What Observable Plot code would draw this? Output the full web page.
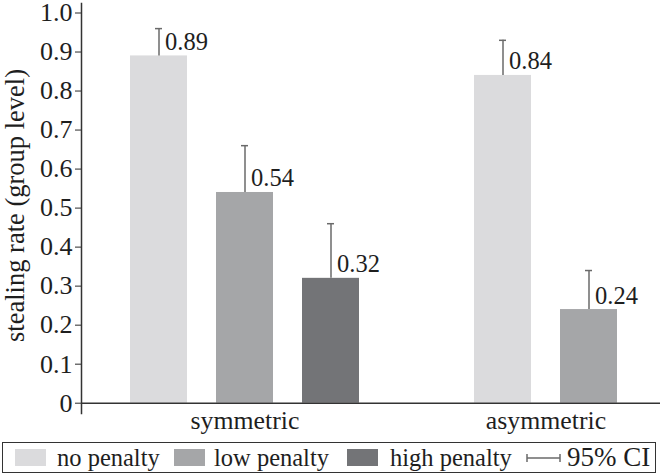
<!DOCTYPE html>
<html><head><meta charset="utf-8">
<script src="https://cdn.jsdelivr.net/npm/d3@7"></script>
<script src="https://cdn.jsdelivr.net/npm/@observablehq/plot@0.6"></script>
<style>
body{margin:0;background:#fff;}
#wrap{width:660px;position:relative;font-family:"Liberation Serif",serif;color:#1e1e1e;}
#legend{position:relative;width:660px;height:34px;}
#legend .box{position:absolute;left:2px;top:2px;width:652px;height:29px;border:1.5px solid #333;}
#legend .sw{position:absolute;top:9px;width:31px;height:17px;}
#legend .tx{position:absolute;top:1px;font-size:24.5px;line-height:33px;white-space:nowrap;}
#legend svg{position:absolute;}
svg{overflow:visible;}
</style></head>
<body><div id="wrap"><div id="chart"></div><div id="legend"></div></div>
<script>
const groups = ["symmetric","symmetric","symmetric","asymmetric","asymmetric"];
const conditions = ["no penalty","low penalty","high penalty","no penalty","low penalty"];
const rates = [0.89, 0.54, 0.32, 0.84, 0.24];
const ciUpper = [0.96, 0.66, 0.46, 0.93, 0.34];
const valueLabels = ["0.89","0.54","0.32","0.84","0.24"];
const groupNames = ["symmetric","asymmetric"];
const conditionNames = ["no penalty","low penalty","high penalty"];
const conditionColors = ["#dbdbdd","#a5a6a8","#737477"];
const yTicks = [0,0.1,0.2,0.3,0.4,0.5,0.6,0.7,0.8,0.9,1.0];
const yTickLabels = ["0","0.1","0.2","0.3","0.4","0.5","0.6","0.7","0.8","0.9","1.0"];
const yLabel = "stealing rate (group level)";
const ciLabel = "95% CI";

const data = groups.map((g,i)=>({group:g, condition:conditions[i], key:g+"|"+conditions[i], rate:rates[i], upper:ciUpper[i], label:valueLabels[i]}));
const xDomain = ["symmetric|no penalty","symmetric|low penalty","symmetric|high penalty","gap","asymmetric|no penalty","asymmetric|low penalty"];

const chart = Plot.plot({
  width:660, height:440,
  marginLeft:81, marginRight:0, marginTop:3, marginBottom:27,
  style:{fontFamily:"Liberation Serif", fontSize:"24px", color:"#2a2a2a", background:"#fff", overflow:"visible"},
  x:{domain:xDomain, range:[99,649], padding:1/3, axis:null},
  y:{domain:[0,1], range:[402.7,12.5], axis:null},
  color:{domain:conditionNames, range:conditionColors},
  marks:[
    Plot.barY(data,{x:"key", y:"rate", fill:"condition"}),
    Plot.ruleX(data,{x:"key", y1:"rate", y2:"upper", stroke:"#6a6a6a", strokeWidth:1.5}),
    Plot.tickY(data,{x:"key", y:"upper", stroke:"#6a6a6a", strokeWidth:1.5, insetLeft:25, insetRight:25}),
    Plot.text(data,{x:"key", y:"rate", text:"label", textAnchor:"start", lineAnchor:"bottom", dx:6, dy:-6, fill:"#1e1e1e", fontSize:24.5}),
    Plot.axisY({ticks:yTicks, tickFormat:(d)=>yTickLabels[yTicks.indexOf(d)], tickSize:6, tickPadding:3, fontSize:26, fill:"#1e1e1e", label:null}),
    Plot.text([yLabel],{text:d=>d, frameAnchor:"left", textAnchor:"middle", rotate:-90, dx:-66, dy:-3, fontSize:26.5, fill:"#1e1e1e", lineAnchor:"middle"}),
    Plot.frame({anchor:"left", stroke:"#333", strokeWidth:1.5}),
    Plot.ruleY([0],{stroke:"#333", strokeWidth:1.5}),
    Plot.text([groupNames[0]],{x:d=>d+"|low penalty", text:d=>d, frameAnchor:"bottom", lineAnchor:"top", dy:-3, fill:"#1e1e1e", fontSize:25.8}),
    Plot.text([groupNames[1]],{x:d=>d+"|no penalty", text:d=>d, frameAnchor:"bottom", lineAnchor:"top", dy:-3, dx:43, fill:"#1e1e1e", fontSize:25.8})
  ]
});
document.getElementById("chart").appendChild(chart);

// legend
const lg = document.getElementById("legend");
lg.innerHTML = '<div class="box"></div>';
const swX = [15,174,347];
const txX = [57,214,390];
conditionNames.forEach((n,i)=>{
  const s=document.createElement("div"); s.className="sw"; s.style.left=swX[i]+"px"; s.style.background=conditionColors[i]; lg.appendChild(s);
  const t=document.createElement("div"); t.className="tx"; t.style.left=txX[i]+"px"; t.textContent=n; lg.appendChild(t);
});
const ns="http://www.w3.org/2000/svg";
const ci=document.createElementNS(ns,"svg"); ci.setAttribute("width","36"); ci.setAttribute("height","12");
ci.style.left="526px"; ci.style.top="12px";
ci.innerHTML='<g stroke="#6a6a6a" stroke-width="1.5"><line x1="1" y1="6" x2="34" y2="6"/><line x1="1" y1="2" x2="1" y2="10"/><line x1="34" y1="2" x2="34" y2="10"/></g>';
lg.appendChild(ci);
const ct=document.createElement("div"); ct.className="tx"; ct.style.left="567px"; ct.style.fontSize="27px"; ct.textContent=ciLabel; lg.appendChild(ct);
</script></body></html>
